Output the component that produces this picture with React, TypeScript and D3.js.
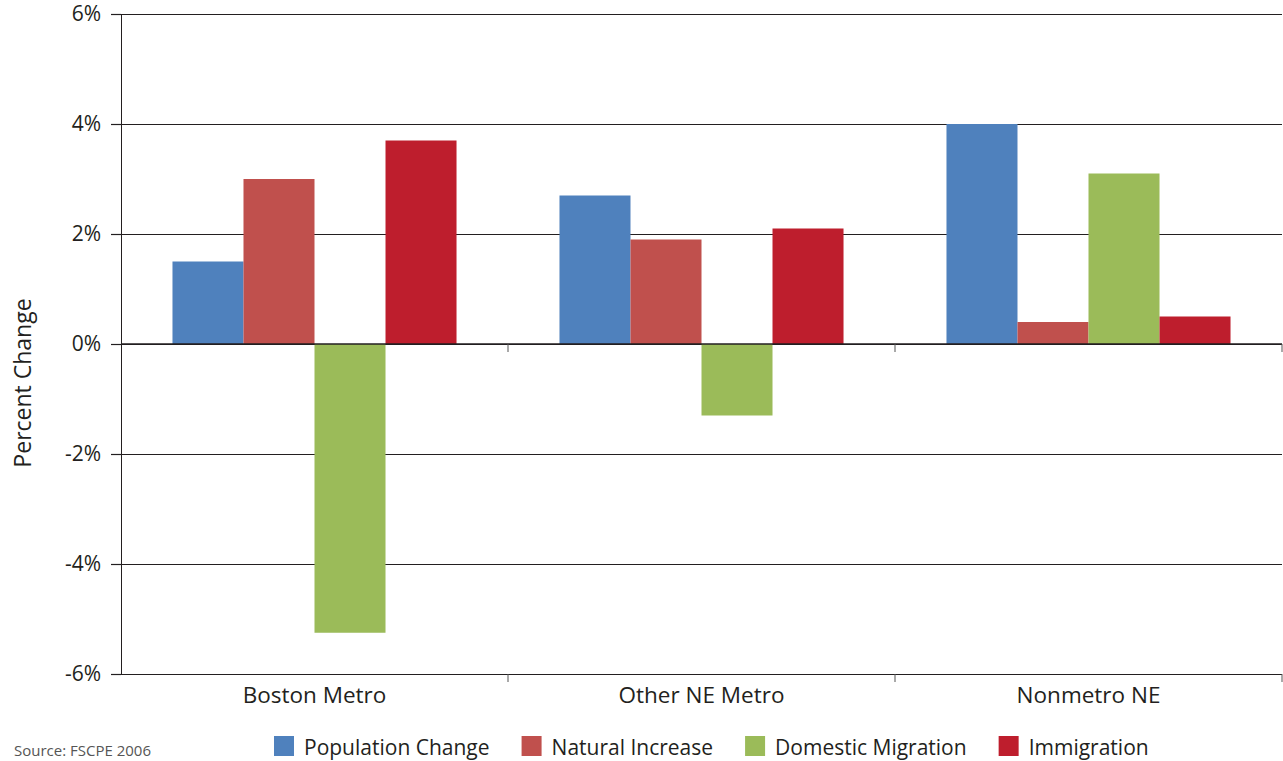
import { useEffect, useRef } from 'react';
import * as d3 from 'd3';

const regions = ['Boston Metro', 'Other NE Metro', 'Nonmetro NE'];
const seriesNames = ['Population Change', 'Natural Increase', 'Domestic Migration', 'Immigration'];
const seriesColors = ['#4f81bd', '#c0504d', '#9bbb59', '#be1e2d'];
const populationChange = [1.5, 2.7, 4.0];
const naturalIncrease = [3.0, 1.9, 0.4];
const domesticMigration = [-5.25, -1.3, 3.1];
const immigration = [3.7, 2.1, 0.5];
const yTicks = [-6, -4, -2, 0, 2, 4, 6];
const sourceNote = 'Source: FSCPE 2006';

const seriesValues = [populationChange, naturalIncrease, domesticMigration, immigration];

export default function App() {
  const svgRef = useRef<SVGSVGElement>(null);

  useEffect(() => {
    if (!svgRef.current) return;
    const width = 1283, height = 761;
    const margin = { top: 14, right: 1, bottom: 87, left: 121 };
    const W = width - margin.left - margin.right;
    const H = height - margin.top - margin.bottom;
    const font = '"Open Sans", sans-serif';
    const ink = '#231f20';

    const svg = d3.select(svgRef.current);
    svg.selectAll('*').remove();
    svg.attr('width', width).attr('height', height);

    const g = svg.append('g').attr('transform', `translate(${margin.left},${margin.top})`);
    const x0 = d3.scaleBand().domain(regions).range([0, W]).paddingInner(0).paddingOuter(0);
    const x1 = d3.scaleBand().domain(seriesNames).range([0, x0.bandwidth()]).paddingOuter(0.725).paddingInner(0);
    const y = d3.scaleLinear().domain([-6, 6]).range([H, 0]);

    // gridlines + left ticks
    g.append('g')
      .call(d3.axisLeft(y).tickValues(yTicks).tickSize(-W).tickFormat(() => ''))
      .call(s => s.select('.domain').remove())
      .call(s => s.selectAll('line').attr('stroke', ink).attr('stroke-width', 1.2));
    g.append('g')
      .call(d3.axisLeft(y).tickValues(yTicks).tickSize(10).tickPadding(10).tickFormat(d => `${d}%`))
      .call(s => s.select('.domain').attr('stroke', ink).attr('stroke-width', 1))
      .call(s => s.selectAll('.tick line').attr('stroke', ink).attr('stroke-width', 1.2))
      .call(s => s.selectAll('text').attr('fill', ink).attr('font-size', 21).attr('font-family', font));

    // bars
    regions.forEach((r, i) => {
      seriesNames.forEach((sName, j) => {
        const v = seriesValues[j][i];
        g.append('rect')
          .attr('x', x0(r)! + x1(sName)!)
          .attr('width', x1.bandwidth())
          .attr('y', y(Math.max(0, v)))
          .attr('height', Math.abs(y(v) - y(0)))
          .attr('fill', seriesColors[j]);
      });
    });

    // zero line and category separators
    g.append('line').attr('x1', 0).attr('x2', W).attr('y1', y(0)).attr('y2', y(0))
      .attr('stroke', ink).attr('stroke-width', 1.5);
    const bounds = regions.map(r => x0(r)! + x0.bandwidth());
    [y(0), H].forEach(yy => {
      bounds.forEach(b => {
        g.append('line').attr('x1', b).attr('x2', b).attr('y1', yy).attr('y2', yy + 8)
          .attr('stroke', '#555').attr('stroke-width', 1);
      });
    });

    // category labels
    g.append('g').selectAll('text').data(regions).join('text')
      .attr('x', d => x0(d)! + x0.bandwidth() / 2)
      .attr('y', H + 29)
      .attr('text-anchor', 'middle')
      .attr('fill', ink).attr('font-size', 22.5).attr('font-family', font)
      .text(d => d);

    // y label
    svg.append('text')
      .attr('transform', `translate(31,383) rotate(-90)`)
      .attr('text-anchor', 'middle')
      .attr('fill', ink).attr('font-size', 23).attr('font-family', font)
      .text('Percent Change');

    // source
    svg.append('text').attr('x', 14).attr('y', 756)
      .attr('fill', '#555').attr('font-size', 15).attr('font-family', font)
      .text(sourceNote);

    // legend
    const legend = svg.append('g');
    let lx = 274;
    seriesNames.forEach((n, j) => {
      legend.append('rect').attr('x', lx).attr('y', 736).attr('width', 20).attr('height', 20)
        .attr('fill', seriesColors[j]);
      const t = legend.append('text').attr('x', lx + 30).attr('y', 755)
        .attr('fill', ink).attr('font-size', 21).attr('font-family', font).text(n);
      const tw = (t.node() as SVGTextElement).getComputedTextLength();
      lx += 30 + tw + 32;
    });
  }, []);

  return <svg ref={svgRef} style={{ position: 'absolute', left: 0, top: 0 }} />;
}
